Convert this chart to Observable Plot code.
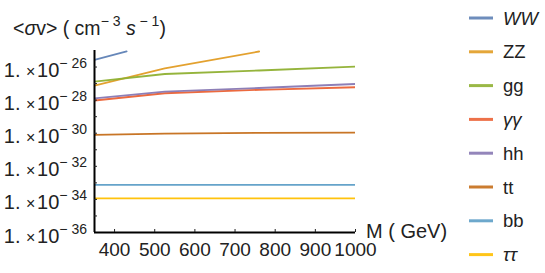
<!DOCTYPE html>
<html><head><meta charset="utf-8">
<script src="https://cdn.jsdelivr.net/npm/d3@7"></script>
<script src="https://cdn.jsdelivr.net/npm/@observablehq/plot@0.6"></script>
<style>
html,body{margin:0;padding:0;background:#fff;}
#chart{width:545px;height:273px;}
</style></head><body><div id="chart"></div>
<script>
// ---- data ----
const seriesNames = ["WW", "ZZ", "gg", "γγ", "hh", "tt", "bb", "ττ"];
const seriesColors = ["#5E81B5", "#E19C24", "#8FB032", "#EB6235", "#8778B3", "#C56E1A", "#5D9EC7", "#FFBF00"];
const italicNames = ["WW", "γγ", "ττ"];
const masses = [350, 525, 760, 1000];
const massWW = [350, 430];
const sigmaWW = [2.7e-26, 8.8e-26];
const massZZ = [350, 525, 760];
const sigmaZZ = [7.6e-28, 8.3e-27, 8.7e-26];
const sigmaGG = [1.32e-27, 3.8e-27, 6.2e-27, 1.07e-26];
const sigmaAA = [9.5e-29, 2.6e-28, 4.2e-28, 6.0e-28];
const sigmaHH = [1.29e-28, 3.3e-28, 5.4e-28, 9.5e-28];
const sigmaTT = [7.9e-31, 9.5e-31, 1.05e-30, 1.1e-30];
const sigmaBB = [7.5e-34, 7.5e-34, 7.5e-34, 7.5e-34];
const sigmaTauTau = [1.17e-34, 1.17e-34, 1.17e-34, 1.17e-34];
const xTicks = [400, 500, 600, 700, 800, 900, 1000];
const yTickExponents = [-35, -34, -33, -32, -31, -30, -29, -28, -27, -26];
const yLabelExponents = [-36, -34, -32, -30, -28, -26];

// ---- table ----
const seriesData = [
  [massWW, sigmaWW], [massZZ, sigmaZZ], [masses, sigmaGG], [masses, sigmaAA],
  [masses, sigmaHH], [masses, sigmaTT], [masses, sigmaBB], [masses, sigmaTauTau]
];
const rows = [];
seriesData.forEach(([ms, vs], i) => ms.forEach((m, j) => rows.push({M: m, sigma: vs[j], series: seriesNames[i]})));

const font = '"Liberation Sans", Arial, sans-serif';
const plot = Plot.plot({
  width: 545, height: 273,
  marginLeft: 94, marginRight: 190, marginTop: 50, marginBottom: 41,
  style: {fontFamily: font, fontSize: "19px", color: "#222", background: "#fff", overflow: "visible"},
  x: {domain: [350, 1000]},
  y: {type: "log", domain: [1e-36, 1e-25]},
  color: {domain: seriesNames, range: seriesColors},
  marks: [
    Plot.lineY(rows, {x: "M", y: "sigma", z: "series", stroke: "series", strokeWidth: 1.8, strokeOpacity: 0.95, clip: true}),
    Plot.ruleX([350], {stroke: "black", strokeWidth: 2}),
    Plot.ruleY([1e-36], {stroke: "black", strokeWidth: 2}),
    Plot.axisX({ticks: xTicks, tickSize: 0, tickPadding: 10, tickFormat: d => String(d), label: null, fontSize: 19}),
    Plot.axisX({ticks: xTicks, tickSize: -3, tickFormat: () => "", label: null}),
    Plot.axisY({ticks: yTickExponents.map(e => Math.pow(10, e)), tickSize: -3, tickFormat: () => "", label: null})
  ]
});
document.getElementById("chart").appendChild(plot);

const svg = d3.select(plot);
const ys = plot.scale("y");
function addText(x, y, size) {
  return svg.append("text").attr("x", x).attr("y", y).attr("text-anchor", "start")
    .attr("font-size", size).attr("fill", "#222").attr("font-family", font);
}
yLabelExponents.forEach(e => {
  const t = addText(87, ys.apply(Math.pow(10, e)) + 10.5, 20).attr("text-anchor", "end");
  t.append("tspan").text("1. ");
  t.append("tspan").attr("font-size", 16).text("×");
  t.append("tspan").text("\u200A10");
  t.append("tspan").attr("dy", -9).attr("font-size", 14).text("− " + Math.abs(e));
});

// y axis label
const yl = addText(13, 35, 19.5);
yl.append("tspan").text("<");
yl.append("tspan").attr("font-style", "italic").text("σ");
yl.append("tspan").text("v> ( cm");
yl.append("tspan").attr("dy", -9).attr("font-size", 14).text("− 3");
yl.append("tspan").attr("dy", 9).attr("font-style", "italic").text(" s");
yl.append("tspan").attr("dy", -9).attr("font-size", 14).text(" − 1");
yl.append("tspan").attr("dy", 9).text(")");

// x axis label
addText(366, 238, 20).text("M ( GeV)");

// legend
seriesNames.forEach((name, i) => {
  const cy = 18 + i * 33.8;
  svg.append("line").attr("x1", 469).attr("x2", 493).attr("y1", cy).attr("y2", cy)
    .attr("stroke", seriesColors[i]).attr("stroke-width", 3).attr("stroke-opacity", 0.9);
  addText(503, cy + 6.5, 18.5).attr("font-style", italicNames.includes(name) ? "italic" : "normal").text(name);
});
</script>
</body></html>
